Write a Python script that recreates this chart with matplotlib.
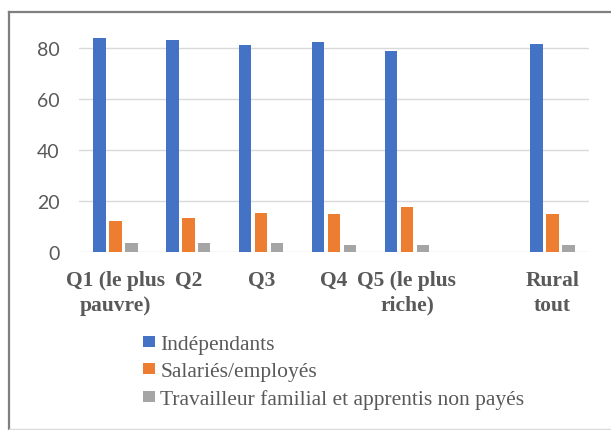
import numpy as np
import matplotlib
matplotlib.use("Agg")
import matplotlib.pyplot as plt
from matplotlib.lines import Line2D
from matplotlib.patches import Patch

categories = ["Q1 (le plus\npauvre)", "Q2", "Q3", "Q4", "Q5 (le plus\nriche)", "", "Rural\ntout"]
series_names = ["Indépendants", "Salariés/employés", "Travailleur familial et apprentis non payés"]
independants = [83.8, 83.0, 81.2, 82.5, 79.0, np.nan, 81.7]
salaries = [12.1, 13.5, 15.5, 14.9, 17.7, np.nan, 14.9]
travailleurs = [3.7, 3.7, 3.7, 3.0, 3.0, np.nan, 3.0]
yticks = [0, 20, 40, 60, 80]
colors = ["#4472C4", "#ED7D31", "#A5A5A5"]

W, H = 611, 431
fig = plt.figure(figsize=(W / 100, H / 100), dpi=100)
fig.patch.set_facecolor("white")

left, right = 79, 589
bottom_px, top_px = 253.3, 36.2
ax = fig.add_axes([left / W, 1 - bottom_px / H, (right - left) / W, (bottom_px - top_px) / H])

x = np.arange(len(categories))
bw = 0.171
off = 0.2186
for i, (vals, c) in enumerate(zip([independants, salaries, travailleurs], colors)):
    ax.bar(x + (i - 1) * off, vals, width=bw, color=c, zorder=3, linewidth=0)

ax.set_xlim(-0.5, len(categories) - 0.5)
ax.set_ylim(0, 85)
ax.set_yticks(yticks)
ax.set_yticklabels([str(v) for v in yticks], fontfamily="Lato", fontsize=14, color="#595959")
ax.set_xticks(x)
ax.set_xticklabels(categories, fontfamily="Liberation Serif", fontweight="bold",
                   fontsize=15.5, color="#595959", linespacing=1.3)
ax.tick_params(axis="y", length=0, pad=14)
ax.tick_params(axis="x", length=0, pad=13)
for s in ax.spines.values():
    s.set_visible(False)
ax.grid(axis="y", color="#D9D9D9", linewidth=1.0, zorder=0)
ax.set_axisbelow(True)

handles = [Patch(facecolor=c, edgecolor="none") for c in colors]
fig.legend(handles, series_names, loc="upper left",
           bbox_to_anchor=(143 / W, 1 - 336 / H), frameon=False,
           prop={"family": "Liberation Serif", "size": 15.5},
           labelcolor="#595959", handlelength=0.55, handleheight=0.45,
           handletextpad=0.25, labelspacing=0.38, borderpad=0, borderaxespad=0)

# chart frame
fig.add_artist(Line2D([9 / W, 9 / W], [1 - 13 / H, 1 - 430 / H], color="#7F7F7F", linewidth=1.6,
                      transform=fig.transFigure))
fig.add_artist(Line2D([9 / W, 1.0], [1 - 13 / H, 1 - 13 / H], color="#7F7F7F", linewidth=1.6,
                      transform=fig.transFigure))
fig.add_artist(Line2D([9 / W, 1.0], [1 - 430 / H, 1 - 430 / H], color="#D9D9D9", linewidth=1.0,
                      transform=fig.transFigure))

fig.savefig("out.png", dpi=100)
